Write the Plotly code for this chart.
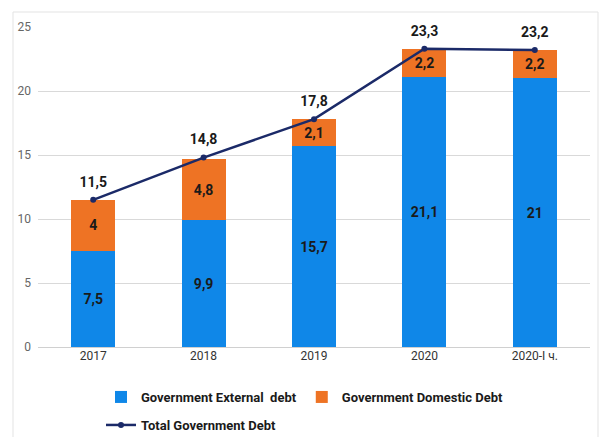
import plotly.graph_objects as go

categories = ["2017", "2018", "2019", "2020", "2020-I ч."]
external_debt = [7.5, 9.9, 15.7, 21.1, 21]
domestic_debt = [4, 4.8, 2.1, 2.2, 2.2]
total_debt = [11.5, 14.8, 17.8, 23.3, 23.2]
y_ticks = [0, 5, 10, 15, 20, 25]

def fmt(v):
    return (("%g" % v)).replace(".", ",")

FONT = "Roboto, sans-serif"
BLUE = "#0f87e8"
ORANGE = "#ee7324"
NAVY = "#1b2a68"
LBL = dict(family=FONT, size=14, color="#1a1a1a", weight="bold")
LEG_FONT = dict(family=FONT, size=13, color="#1a1a1a", weight="bold")

fig = go.Figure()
fig.add_trace(go.Bar(
    x=categories, y=external_debt, name="Government External  debt",
    marker=dict(color=BLUE, line=dict(width=0)),
    text=[fmt(v) for v in external_debt], textposition="inside",
    insidetextanchor="middle", textangle=0, textfont=LBL, legend="legend",
))
fig.add_trace(go.Bar(
    x=categories, y=domestic_debt, name="Government Domestic Debt",
    marker=dict(color=ORANGE, line=dict(width=0)),
    text=[fmt(v) for v in domestic_debt], textposition="inside",
    insidetextanchor="middle", textangle=0, textfont=LBL, legend="legend",
))
fig.add_trace(go.Scatter(
    x=categories, y=total_debt, name="Total Government Debt",
    mode="lines+markers", cliponaxis=False,
    line=dict(color=NAVY, width=2.5),
    marker=dict(color=NAVY, size=6), legend="legend2",
))
fig.add_trace(go.Scatter(
    x=categories, y=total_debt, mode="markers+text", showlegend=False,
    marker=dict(size=14, opacity=0), hoverinfo="skip", cliponaxis=False,
    text=[fmt(v) for v in total_debt], textposition="top center",
    textfont=LBL,
))

fig.update_layout(
    width=599, height=437,
    margin=dict(l=38, r=9, t=27, b=90, autoexpand=False),
    paper_bgcolor="white", plot_bgcolor="white",
    barmode="stack", bargap=0.6,
    showlegend=True,
    legend=dict(
        orientation="h", x=(101 - 38) / 552, xanchor="left",
        y=-(382 - 347) / 320, yanchor="top",
        traceorder="normal", font=LEG_FONT,
        itemwidth=30, tracegroupgap=0,
    ),
    legend2=dict(
        orientation="h", x=(101 - 38) / 552, xanchor="left",
        y=-(410 - 347) / 320, yanchor="top",
        traceorder="normal", font=LEG_FONT,
        itemwidth=30, tracegroupgap=0,
    ),
    xaxis=dict(
        tickfont=dict(family=FONT, size=12, color="#333333"),
        showgrid=False, showline=False, ticks="",
    ),
    yaxis=dict(
        range=[0, 25], tickvals=y_ticks,
        tickfont=dict(family=FONT, size=12, color="#666666"),
        showgrid=True, gridcolor="#d9d9d9", gridwidth=1,
        zeroline=True, zerolinecolor="#d0d0d0", zerolinewidth=1,
        showline=False, ticks="", ticklabelstandoff=6,
    ),
    shapes=[dict(
        type="rect", xref="paper", yref="paper",
        x0=(13 - 38) / 552, x1=(598 - 38) / 552,
        y0=(347 - 440) / 320, y1=(347 - 12) / 320,
        line=dict(color="#e3e3e3", width=1), fillcolor="rgba(0,0,0,0)",
        layer="below",
    )],
)

fig.write_html("out.html")
